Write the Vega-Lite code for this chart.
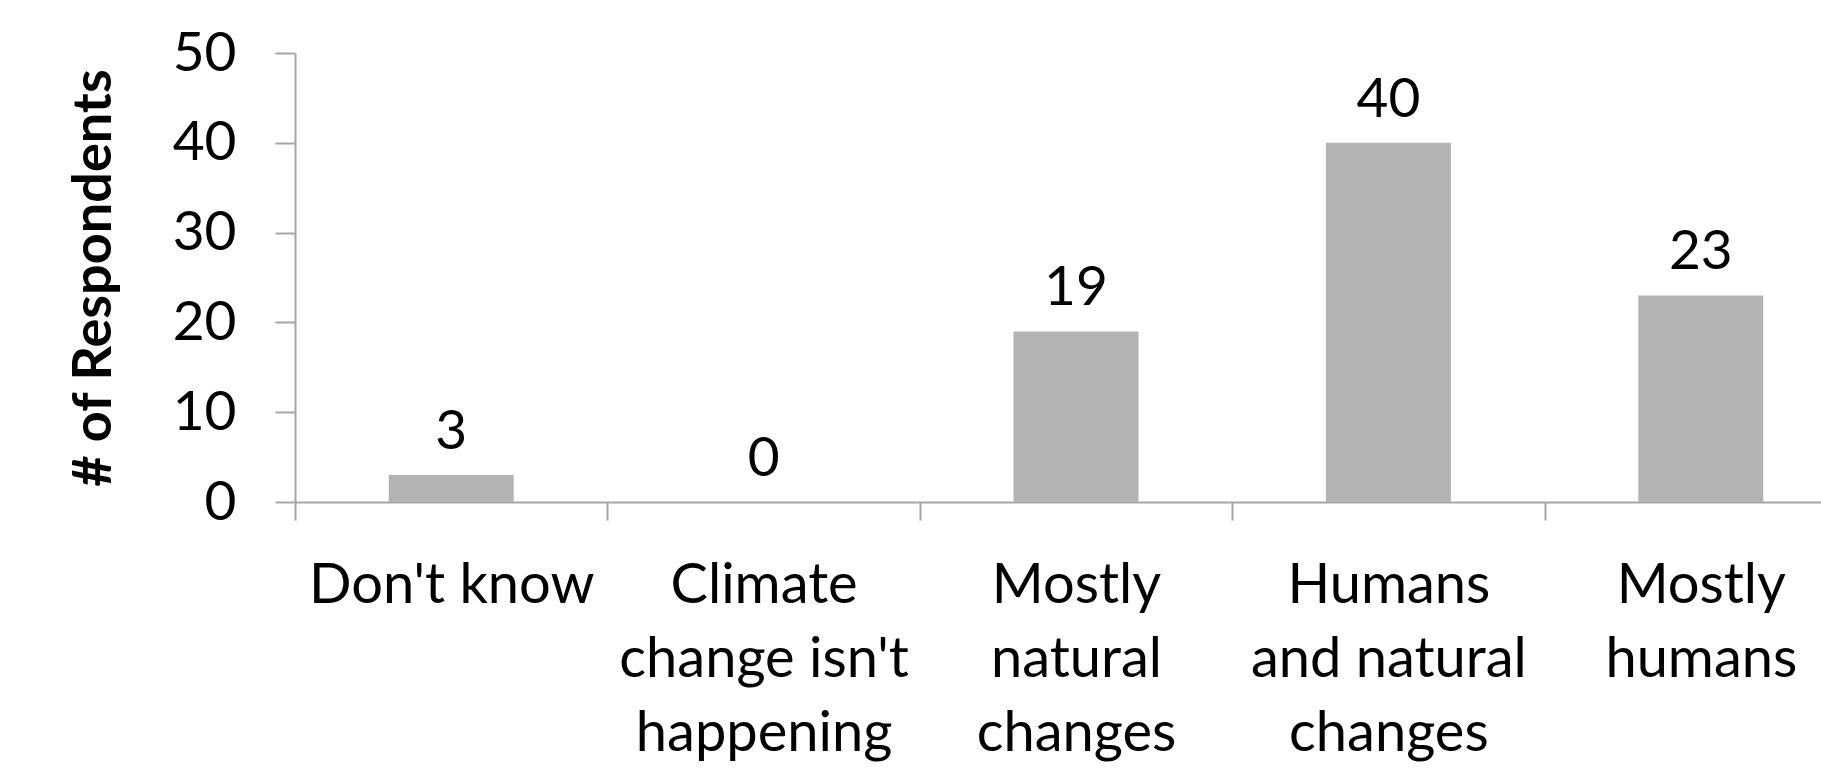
{
  "$schema": "https://vega.github.io/schema/vega-lite/v6.json",
  "width": 1526,
  "height": 449,
  "autosize": {"type": "none"},
  "padding": {"left": 295, "top": 53, "right": 0, "bottom": 268},
  "background": "white",
  "config": {"view": {"stroke": null}, "font": "Lato"},
  "data": {
    "values": [
      {"cause": "Don't know", "count": 3},
      {"cause": "Climate change isn't happening", "count": 0},
      {"cause": "Mostly natural changes", "count": 19},
      {"cause": "Humans and natural changes", "count": 40},
      {"cause": "Mostly humans", "count": 23}
    ]
  },
  "encoding": {
    "x": {
      "field": "cause",
      "type": "nominal",
      "sort": null,
      "scale": {"range": [0, 1562], "paddingInner": 0.6, "paddingOuter": 0.3},
      "axis": {
        "title": null,
        "labelAngle": 0,
        "tickOffset": -156.2,
        "labelOffset": 156.2,
        "tickSize": 18,
        "tickWidth": 2,
        "tickColor": "#A6A6A6",
        "domainColor": "#A6A6A6",
        "domainWidth": 2,
        "labelFont": "Lato",
        "labelFontSize": 56,
        "labelColor": "black",
        "labelLineHeight": 74,
        "labelBaseline": "top",
        "labelPadding": 38,
        "labelLimit": 0,
        "labelExpr": "datum.value == \"Climate change isn't happening\" ? [\"Climate\", \"change isn't\", \"happening\"] : datum.value == \"Mostly natural changes\" ? [\"Mostly\", \"natural\", \"changes\"] : datum.value == \"Humans and natural changes\" ? [\"Humans\", \"and natural\", \"changes\"] : datum.value == \"Mostly humans\" ? [\"Mostly\", \"humans\"] : datum.value"
      }
    },
    "y": {
      "field": "count",
      "type": "quantitative",
      "scale": {"domain": [0, 50], "nice": false},
      "axis": {
        "title": "# of Respondents",
        "titleFont": "Lato",
        "titleFontSize": 54,
        "titleFontWeight": "bold",
        "titleColor": "black",
        "titleX": -201,
        "titleBaseline": "middle",
        "values": [0, 10, 20, 30, 40, 50],
        "grid": false,
        "tickSize": 20,
        "tickWidth": 2,
        "tickColor": "#A6A6A6",
        "domainColor": "#A6A6A6",
        "domainWidth": 2,
        "labelFont": "Lato",
        "labelFontSize": 55,
        "labelColor": "black",
        "labelPadding": 39
      }
    }
  },
  "layer": [
    {"mark": {"type": "bar", "color": "#B3B3B3"}},
    {
      "mark": {"type": "text", "baseline": "alphabetic", "dy": -26, "fontSize": 55, "font": "Lato", "color": "black"},
      "encoding": {"text": {"field": "count", "type": "quantitative"}}
    }
  ]
}
